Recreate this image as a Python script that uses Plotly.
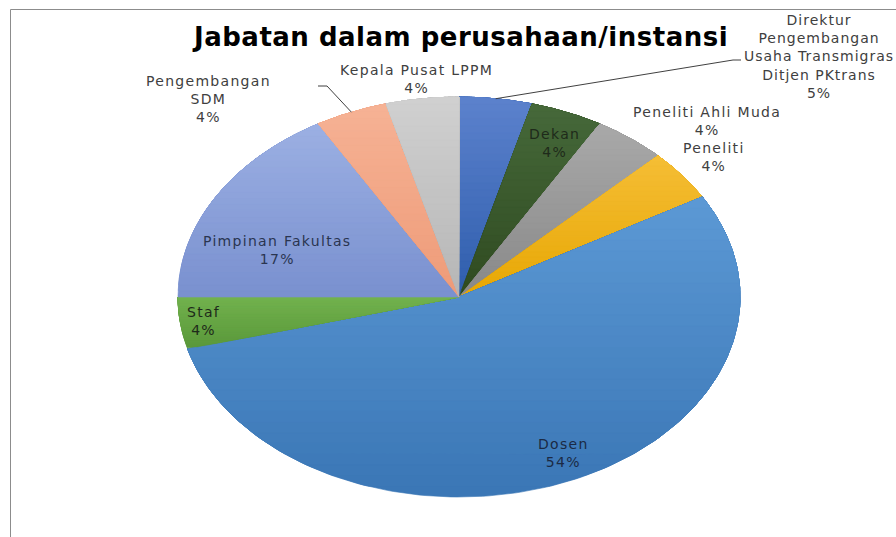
import numpy as np
import plotly.graph_objects as go

# ---------------- data ----------------
categories = ["Direktur<br>Pengembangan<br>Usaha Transmigras<br>Ditjen PKtrans",
              "Dekan", "Peneliti Ahli Muda", "Peneliti", "Dosen", "Staf",
              "Pimpinan Fakultas", "Pengembangan<br>SDM", "Kepala Pusat LPPM"]
counts = [1, 1, 1, 1, 13, 1, 4, 1, 1]
pct_labels = ["5%", "4%", "4%", "4%", "54%", "4%", "17%", "4%", "4%"]
title_text = "Jabatan dalam perusahaan/instansi"

# ---------------- styling / layout ----------------
W, H = 896, 537
CX, CY, RX, RY = 459, 297, 281, 200   # pie centre & radii in pixels
# (top colour, bottom colour) of each slice's vertical gradient
grad = [("#5c82cd", "#2e5dac"), ("#46693a", "#2f4a20"), ("#a9a9a9", "#888888"),
        ("#f5be36", "#e7a703"), ("#5c99d5", "#3a76b5"), ("#72b24e", "#5a983a"),
        ("#9cb0e3", "#7990cf"), ("#f6b295", "#ee9b78"), ("#d0d0d0", "#b6b6b6")]
# label block centres (pixels)
label_pos = [(819, 56), (554, 143), (707, 121), (714, 157), (563, 453),
             (203, 321), (277, 250), (208, 99), (416, 79)]
label_color = ["#404040", "#1e2a1a", "#404040", "#404040", "#1b2a44",
               "#1e2a1a", "#2a3550", "#404040", "#404040"]
label_spacing = [1.0, 1.3, 1.3, 1.3, 1.3, 1.3, 1.3, 1.3, 1.3]
NB = 28  # gradient bands per slice


def px2d(px, py):
    return (px - CX) / RX, (CY - py) / RY


def hex2rgb(h):
    return np.array([int(h[i:i + 2], 16) for i in (1, 3, 5)], float)


def mix(a, b, f):
    c = hex2rgb(a) * (1 - f) + hex2rgb(b) * f
    return "rgb(%d,%d,%d)" % tuple(np.round(c).astype(int))


def clip_above(xs, ys, t):
    out = []
    n = len(xs)
    for k in range(n):
        x1, y1 = xs[k], ys[k]
        x2, y2 = xs[(k + 1) % n], ys[(k + 1) % n]
        in1, in2 = y1 >= t, y2 >= t
        if in1:
            out.append((x1, y1))
        if in1 != in2:
            f = (t - y1) / (y2 - y1)
            out.append((x1 + f * (x2 - x1), t))
    return out


fig = go.Figure()
total = float(sum(counts))
edges = np.concatenate([[0.0], np.cumsum(counts)]) / total * 2 * np.pi
for i, cat in enumerate(categories):
    th = np.linspace(edges[i], edges[i + 1], 150)
    xs = np.concatenate([[0.0], np.sin(th)])
    ys = np.concatenate([[0.0], np.cos(th)])
    y0, y1 = ys.min(), ys.max()
    top, bot = grad[i]
    for k in range(NB):
        t = y0 + (y1 - y0) * k / NB
        poly = clip_above(xs, ys, t) if k else list(zip(xs, ys))
        if len(poly) < 3:
            continue
        px_, py_ = zip(*poly)
        col = mix(bot, top, (k + 0.5) / NB)
        fig.add_trace(go.Scatter(x=list(px_) + [px_[0]], y=list(py_) + [py_[0]],
                                 mode="lines", fill="toself", fillcolor=col,
                                 line=dict(color=col, width=0.6 if k == 0 else 0.3),
                                 name=cat.replace("<br>", " "),
                                 hoverinfo="name" if k == 0 else "skip",
                                 showlegend=False))

# leader lines (from slice mid-angle on the rim to the label)
def leader(i, pts):
    mid = (edges[i] + edges[i + 1]) / 2
    xs = [np.sin(mid)] + [px2d(*p)[0] for p in pts]
    ys = [np.cos(mid)] + [px2d(*p)[1] for p in pts]
    fig.add_trace(go.Scatter(x=xs, y=ys, mode="lines",
                             line=dict(color="#404040", width=1),
                             hoverinfo="skip", showlegend=False))

leader(0, [(733, 60), (741, 60)])
leader(7, [(327, 86), (318, 86)])

annotations = []
for i, (cat, p) in enumerate(zip(categories, pct_labels)):
    lx, ly = label_pos[i]
    txt = "<br>".join('<span style="letter-spacing:%.1fpx">%s</span>' % (label_spacing[i], s)
                      for s in (cat.split("<br>") + [p]))
    annotations.append(dict(text=txt, x=lx / W, y=1 - ly / H,
                            xref="paper", yref="paper", xanchor="center",
                            yanchor="middle", showarrow=False, align="center",
                            font=dict(family="DejaVu Sans", size=14,
                                      color=label_color[i])))
annotations.append(dict(text='<b><span style="letter-spacing:0.5px">%s</span></b>' % title_text,
                        x=460 / W, y=1 - 37 / H,
                        xref="paper", yref="paper", xanchor="center",
                        yanchor="middle", showarrow=False,
                        font=dict(family="DejaVu Sans", size=26, color="#000000")))

shapes = [dict(type="line", xref="paper", yref="paper", x0=10.5 / W, x1=10.5 / W,
               y0=0, y1=1 - 9.5 / H, line=dict(color="#8c8c8c", width=1)),
          dict(type="line", xref="paper", yref="paper", x0=10.5 / W, x1=1,
               y0=1 - 9.5 / H, y1=1 - 9.5 / H, line=dict(color="#8c8c8c", width=1))]

xr = [px2d(0, 0)[0], px2d(W, 0)[0]]
yr = [px2d(0, H)[1], px2d(0, 0)[1]]
fig.update_layout(width=W, height=H, margin=dict(l=0, r=0, t=0, b=0),
                  paper_bgcolor="white", plot_bgcolor="white",
                  xaxis=dict(range=xr, visible=False, fixedrange=True),
                  yaxis=dict(range=yr, visible=False, fixedrange=True),
                  annotations=annotations, shapes=shapes, showlegend=False)
fig.write_html("out.html")
